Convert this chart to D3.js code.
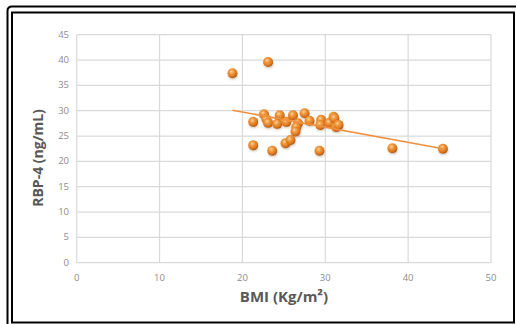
<!DOCTYPE html>
<html>
<head>
<meta charset="utf-8">
<script src="https://cdn.jsdelivr.net/npm/d3@7"></script>
<style>
  body { margin: 0; background: #fff; }
  svg { display: block; }
</style>
</head>
<body>
<script>
// BMI (x) vs RBP-4 (y)
const bmi = [18.8, 23.1, 22.6, 21.3, 21.3, 22.9, 23.1, 23.6, 24.2, 24.5, 25.3, 25.2, 25.8, 26.1,
             26.7, 26.5, 26.4, 27.5, 28.1, 29.5, 29.4, 29.3, 30.5, 31.0, 31.1, 31.3, 31.6, 38.1, 44.2]
const rbp4 = [37.4, 39.6, 29.3, 27.8, 23.2, 28.3, 27.6, 22.1, 27.4, 29.1, 27.8, 23.6, 24.2, 29.1,
              27.5, 26.8, 25.9, 29.5, 28.0, 28.2, 27.2, 22.1, 27.6, 28.8, 28.5, 26.8, 27.2, 22.6, 22.5]
const trendX = [18.8, 44.2]
const trendY = [30.1, 22.5]
const xTicks = [0, 10, 20, 30, 40, 50]
const yTicks = [0, 5, 10, 15, 20, 25, 30, 35, 40, 45]

const w = 516
const h = 324
const padL = 76.7, padR = 491, padT = 34.7, padB = 262.7

const svg = d3.select("body").append("svg")
              .attr("width", w)
              .attr("height", h)

// double black frame
svg.append("path")
   .attr("d", "M7.5,330 L7.5,11 Q7.5,6.5 12,6.5 L520,6.5")
   .attr("fill", "none").attr("stroke", "#000").attr("stroke-width", 2)
svg.append("rect")
   .attr("x", 12).attr("y", 12.5).attr("width", 502).attr("height", 310)
   .attr("fill", "none").attr("stroke", "#000").attr("stroke-width", 2)

const xScale = d3.scaleLinear().domain([0, 50]).range([padL, padR])
const yScale = d3.scaleLinear().domain([0, 45]).range([padB, padT])

const defs = svg.append("defs")
const grad = defs.append("radialGradient")
                 .attr("id", "ball")
                 .attr("cx", "40%").attr("cy", "35%").attr("r", "65%")
grad.append("stop").attr("offset", "0%").attr("stop-color", "#fbd2a0")
grad.append("stop").attr("offset", "35%").attr("stop-color", "#f19a3e")
grad.append("stop").attr("offset", "80%").attr("stop-color", "#d9721c")
grad.append("stop").attr("offset", "100%").attr("stop-color", "#a9560f")
const blur = defs.append("filter").attr("id", "shadow")
                 .attr("x", "-50%").attr("y", "-50%").attr("width", "200%").attr("height", "200%")
blur.append("feGaussianBlur").attr("stdDeviation", 1.2)

// gridlines
svg.append("g").selectAll("line")
   .data(xTicks).enter().append("line")
   .attr("x1", d => xScale(d)).attr("x2", d => xScale(d))
   .attr("y1", padT).attr("y2", padB)
   .attr("stroke", "#d9d9d9").attr("stroke-width", 1.2)
svg.append("g").selectAll("line")
   .data(yTicks).enter().append("line")
   .attr("x1", padL).attr("x2", padR)
   .attr("y1", d => yScale(d)).attr("y2", d => yScale(d))
   .attr("stroke", "#d9d9d9").attr("stroke-width", 1.2)

// tick labels
svg.append("g").selectAll("text")
   .data(xTicks).enter().append("text")
   .attr("x", d => xScale(d)).attr("y", 280.5)
   .attr("text-anchor", "middle")
   .attr("font-family", "Open Sans, sans-serif").attr("font-size", 9.5)
   .attr("fill", "#8c8c8c")
   .text(d => d)
svg.append("g").selectAll("text")
   .data(yTicks).enter().append("text")
   .attr("x", 69).attr("y", d => yScale(d) + 3)
   .attr("text-anchor", "end")
   .attr("font-family", "Open Sans, sans-serif").attr("font-size", 9.5)
   .attr("fill", "#8c8c8c")
   .text(d => d)

// axis titles
svg.append("text")
   .attr("x", 284).attr("y", 302)
   .attr("text-anchor", "middle")
   .attr("font-family", "Open Sans, sans-serif").attr("font-size", 15).attr("font-weight", "bold")
   .attr("fill", "#595959")
   .text("BMI (Kg/m²)")
svg.append("text")
   .attr("transform", "translate(42.5,158) rotate(-90)")
   .attr("text-anchor", "middle")
   .attr("font-family", "Open Sans, sans-serif").attr("font-size", 14).attr("font-weight", "bold")
   .attr("fill", "#595959")
   .text("RBP-4 (ng/mL)")

const pts = bmi.map((d, i) => ({ x: d, y: rbp4[i] }))

// soft shadows under the balls
svg.append("g").selectAll("ellipse")
   .data(pts).enter().append("ellipse")
   .attr("cx", d => xScale(d.x) + 0.5).attr("cy", d => yScale(d.y) + 2.5)
   .attr("rx", 4.5).attr("ry", 3.5)
   .attr("fill", "rgba(120,70,20,0.35)")
   .attr("filter", "url(#shadow)")

svg.append("g").selectAll("circle")
   .data(pts).enter().append("circle")
   .attr("cx", d => xScale(d.x)).attr("cy", d => yScale(d.y))
   .attr("r", 5)
   .attr("fill", "url(#ball)")

// linear trend line
svg.append("line")
   .attr("x1", xScale(trendX[0])).attr("y1", yScale(trendY[0]))
   .attr("x2", xScale(trendX[1])).attr("y2", yScale(trendY[1]))
   .attr("stroke", "#f0903e").attr("stroke-width", 1.6)
</script>
</body>
</html>
